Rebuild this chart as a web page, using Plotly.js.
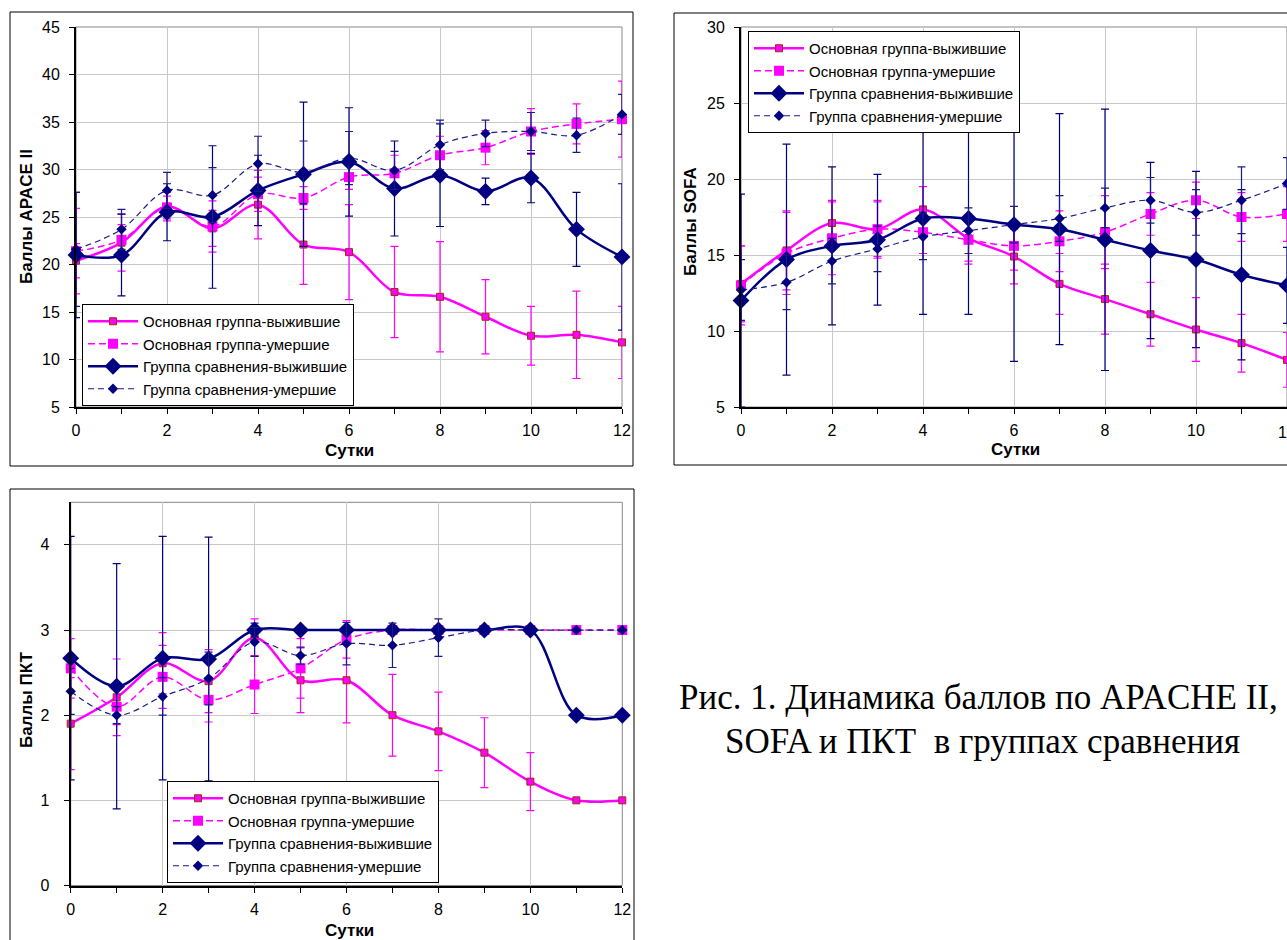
<!DOCTYPE html>
<html>
<head>
<meta charset="utf-8">
<script src="https://cdn.plot.ly/plotly-3.0.1.min.js"></script>
<style>
html,body{margin:0;padding:0;background:#fff;}
#chart{width:1287px;height:940px;}
</style>
</head>
<body>
<div id="chart"></div>
<script>
// ---- data ----
const days = [0,1,2,3,4,5,6,7,8,9,10,11,12];
const seriesNames = ["Основная группа-выжившие","Основная группа-умершие","Группа сравнения-выжившие","Группа сравнения-умершие"];

// APACHE II
const apA    = [20.4, 22.3, 26.1, 23.8, 26.3, 22.1, 21.3, 17.1, 16.6, 14.5, 12.5, 12.6, 11.8];
const apAerr = [1.8, 3.0, 1.5, 1.9, 3.6, 4.2, 5.0, 4.8, 5.8, 3.9, 3.1, 4.6, 3.8];
const apB    = [21.4, 22.6, 26.0, 24.0, 27.4, 27.0, 29.2, 29.6, 31.5, 32.3, 34.0, 34.8, 35.3];
const apBerr = [4.5, 1.6, 1.2, 2.7, 1.8, 1.2, 1.3, 1.9, 2.0, 1.8, 2.4, 2.1, 4.0];
const apC    = [21.0, 21.0, 25.5, 25.0, 27.8, 29.5, 30.8, 28.0, 29.4, 27.7, 29.1, 23.7, 20.8];
const apCerr = [6.6, 4.3, 3.0, 7.5, 3.7, 7.6, 5.7, 5.0, 5.4, 1.4, 2.6, 3.9, 7.7];
const apD    = [21.6, 23.7, 27.8, 27.3, 30.6, 29.7, 31.2, 29.9, 32.6, 33.8, 34.0, 33.6, 35.8];
const apDerr = [6.0, 2.1, 1.9, 2.9, 2.9, 3.3, 2.8, 2.0, 2.6, 1.4, 2.0, 1.8, 2.1];

// SOFA
const sfA    = [13.1, 15.3, 17.1, 16.7, 18.0, 16.1, 14.9, 13.1, 12.1, 11.1, 10.1, 9.2, 8.1];
const sfAerr = [2.5, 2.6, 1.5, 1.8, 1.5, 1.5, 1.8, 2.0, 2.3, 2.1, 2.1, 1.9, 1.8];
const sfB    = [13.0, 15.1, 16.1, 16.7, 16.5, 16.0, 15.6, 15.9, 16.5, 17.7, 18.6, 17.5, 17.7];
const sfBerr = [2.6, 2.7, 2.4, 1.9, 1.4, 1.6, 1.6, 2.0, 2.4, 1.4, 1.2, 1.6, 1.8];
const sfC    = [12.0, 14.7, 15.6, 16.0, 17.4, 17.4, 17.0, 16.7, 16.0, 15.3, 14.7, 13.7, 13.0];
const sfCerr = [7.0, 7.6, 5.2, 4.3, 6.3, 6.3, 9.0, 7.6, 8.6, 5.8, 5.8, 5.6, 2.5];
const sfD    = [12.7, 13.2, 14.6, 15.4, 16.2, 16.6, 17.0, 17.4, 18.1, 18.6, 17.8, 18.6, 19.7];
const sfDerr = [2.0, 1.8, 1.5, 1.5, 1.5, 1.5, 1.2, 1.5, 1.3, 1.5, 1.5, 2.2, 1.7];

// ПКТ
const pkA    = [1.90, 2.21, 2.61, 2.40, 2.91, 2.41, 2.41, 2.00, 1.81, 1.56, 1.22, 1.00, 1.00];
const pkAerr = [0.54, 0.45, 0.36, 0.37, 0.22, 0.38, 0.50, 0.48, 0.46, 0.41, 0.34, 0, 0];
const pkB    = [2.55, 2.10, 2.45, 2.18, 2.36, 2.55, 2.89, 3.00, 3.00, 3.00, 3.00, 3.00, 3.00];
const pkBerr = [0.35, 0.21, 0.37, 0.26, 0.34, 0.35, 0.22, 0, 0, 0, 0, 0, 0];
const pkC    = [2.67, 2.34, 2.67, 2.66, 3.00, 3.00, 3.00, 3.00, 3.00, 3.00, 3.00, 2.00, 2.00];
const pkCerr = [1.43, 1.44, 1.43, 1.43, 0.08, 0, 0, 0, 0, 0, 0, 0, 0];
const pkD    = [2.28, 2.00, 2.22, 2.43, 2.86, 2.70, 2.84, 2.82, 2.91, 3.00, 3.00, 3.00, 3.00];
const pkDerr = [0.27, 0.10, 0.22, 0.31, 0.17, 0.10, 0.25, 0.26, 0.22, 0, 0, 0, 0];

// ---- styles ----
const MAG = '#FF00FF', NAVY = '#000080';
const FONT = 'Liberation Sans, Arial, sans-serif';
const SERIF = 'Liberation Serif, Times New Roman, serif';
const W = 1287, H = 940;
const px = v => v / W;
const py = v => 1 - v / H;

function styleFor(i){
  if(i===0) return {line:{color:MAG,width:2.5,shape:'spline'},
                    marker:{symbol:'square',size:7,color:MAG,line:{color:'#993300',width:1}}, ec:MAG};
  if(i===1) return {line:{color:MAG,width:1.5,shape:'spline',dash:'7px,4px'},
                    marker:{symbol:'square',size:10,color:MAG,line:{width:0}}, ec:MAG};
  if(i===2) return {line:{color:NAVY,width:2.5,shape:'spline'},
                    marker:{symbol:'diamond',size:13,color:NAVY,line:{width:0}}, ec:NAVY};
  return {line:{color:'#1a1a88',width:1.2,shape:'spline',dash:'6px,4px'},
          marker:{symbol:'diamond',size:8,color:NAVY,line:{width:0}}, ec:'#1a1a88'};
}

function buildTraces(vals, errs, xa, ya, legendId){
  return vals.map((v,i)=>{
    const s = styleFor(i);
    return {
      x: days, y: v, type:'scatter', mode:'lines+markers',
      name: seriesNames[i], xaxis: xa, yaxis: ya, legend: legendId,
      line: s.line, marker: s.marker, cliponaxis:false,
      error_y:{type:'data', array: errs[i], visible:true, color:s.ec, thickness:1.2, width:4}
    };
  });
}

const traces = [].concat(
  buildTraces([apA,apB,apC,apD],[apAerr,apBerr,apCerr,apDerr],'x','y','legend'),
  buildTraces([sfA,sfB,sfC,sfD],[sfAerr,sfBerr,sfCerr,sfDerr],'x2','y2','legend2'),
  buildTraces([pkA,pkB,pkC,pkD],[pkAerr,pkBerr,pkCerr,pkDerr],'x3','y3','legend3')
);

function xAxis(domain, anchor){
  return {domain, anchor, range:[0,12], tick0:0, dtick:2, showgrid:true, gridcolor:'#c8c8c8', gridwidth:1,
    zeroline:false, showline:true, linecolor:'#000', linewidth:2, ticks:'outside', ticklen:5, tickwidth:1,
    tickcolor:'#000', ticklabelstandoff:3,
    minor:{dtick:1, ticks:'outside', ticklen:5, tickwidth:1, tickcolor:'#000', showgrid:false},
    tickfont:{family:FONT, size:16, color:'#000'}, fixedrange:true};
}
function yAxis(domain, anchor, range, dtick, standoff){
  return {domain, anchor, range, dtick, tick0:0, showgrid:true, gridcolor:'#c8c8c8', gridwidth:1,
    zeroline:false, showline:true, linecolor:'#000', linewidth:2, ticks:'outside', ticklen:5, tickwidth:1,
    tickcolor:'#000', ticklabelstandoff:standoff,
    tickfont:{family:FONT, size:16, color:'#000'}, fixedrange:true};
}

function legendAt(x, y){
  return {x:px(x), y:py(y), xanchor:'left', yanchor:'top', bgcolor:'#fff', bordercolor:'#000', borderwidth:1,
    font:{family:FONT, size:15, color:'#000'}, itemwidth:50, tracegroupgap:0, itemclick:false, itemdoubleclick:false};
}

function frame(x0,x1,y0,y1){
  return {type:'rect', xref:'paper', yref:'paper', x0, x1, y0, y1, line:{color:'#000', width:1}, fillcolor:'rgba(0,0,0,0)', layer:'below'};
}
function plotBorder(xr, yr){
  return {type:'rect', xref:xr+' domain', yref:yr+' domain', x0:0, x1:1, y0:0, y1:1, line:{color:'#888', width:1}, fillcolor:'rgba(0,0,0,0)', layer:'below'};
}

function ann(text, x, y, opts){
  return Object.assign({text, x:px(x), y:py(y), xref:'paper', yref:'paper', showarrow:false,
    xanchor:'center', yanchor:'middle', font:{family:FONT, size:17, color:'#000'}}, opts||{});
}

const layout = {
  width:W, height:H, autosize:false,
  margin:{l:0,r:0,t:0,b:0},
  paper_bgcolor:'#fff', plot_bgcolor:'rgba(0,0,0,0)',
  showlegend:true,
  xaxis: xAxis([px(76), px(622)], 'y'),
  yaxis: yAxis([py(407), py(27)], 'x', [5,45], 5, 6),
  xaxis2: xAxis([px(741), 1], 'y2'),
  yaxis2: yAxis([py(407), py(27)], 'x2', [5,30], 5, 6),
  xaxis3: xAxis([px(70.7), px(622.3)], 'y3'),
  yaxis3: yAxis([py(885.5), py(502.3)], 'x3', [0,4.5], 1, 11),
  legend: legendAt(82, 304),
  legend2: legendAt(748, 31),
  legend3: legendAt(167, 781),
  shapes: [
    frame(px(10), px(633), py(466), py(12)),
    frame(px(674), 1.05, py(465), py(13)),
    frame(px(10), px(634), -0.05, py(489)),
    plotBorder('x','y'), plotBorder('x2','y2'), plotBorder('x3','y3')
  ],
  annotations: [
    ann('<b>Баллы APACE II</b>', 26, 217, {textangle:-90}),
    ann('<b>Баллы SOFA</b>', 690, 222, {textangle:-90}),
    ann('<b>Баллы ПКТ</b>', 26, 700, {textangle:-90}),
    ann('<b>Сутки</b>', 349, 450),
    ann('<b>Сутки</b>', 1016, 449),
    ann('<b>Сутки</b>', 349, 930),
    ann('12', 1287, 432, {font:{family:FONT, size:16, color:'#000'}}),
    ann('Рис. 1. Динамика баллов по APACHE II,', 978, 697, {font:{family:SERIF, size:35, color:'#000'}}),
    ann('SOFA и ПКТ&nbsp;&nbsp;в группах сравнения', 982, 741, {font:{family:SERIF, size:35, color:'#000'}})
  ]
};

Plotly.newPlot('chart', traces, layout, {displayModeBar:false, staticPlot:true});
</script>
</body>
</html>
